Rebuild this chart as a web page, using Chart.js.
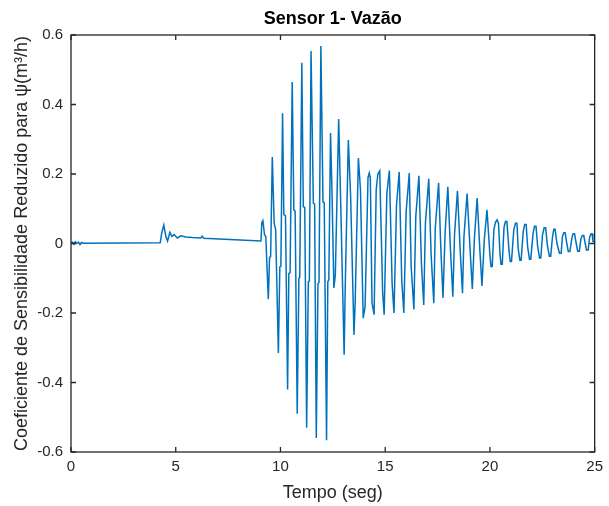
<!DOCTYPE html>
<html>
<head>
<meta charset="utf-8">
<script src="https://cdn.jsdelivr.net/npm/chart.js@4.4.1/dist/chart.umd.min.js"></script>
<style>
  html, body { margin: 0; padding: 0; background: #ffffff; }
  #wrap { width: 609px; height: 506px; position: relative; }
</style>
</head>
<body>
<div id="wrap"><canvas id="c" width="609" height="506"></canvas></div>
<script>
// ---- data ----
const chartTitle = 'Sensor 1- Vazão';
const xAxisTitle = 'Tempo (seg)';
const yAxisTitle = 'Coeficiente de Sensibilidade Reduzido para ψ(m³/h)';

const xTicks = [0, 5, 10, 15, 20, 25];
const xTickLabels = ['0', '5', '10', '15', '20', '25'];
const yTicks = [-0.6, -0.4, -0.2, 0, 0.2, 0.4, 0.6];
const yTickLabels = ['-0.6', '-0.4', '-0.2', '0', '0.2', '0.4', '0.6'];

const timeSec = [
  0.00, 0.08, 0.14, 0.21, 0.28, 0.36, 0.43, 0.50, 0.57,
  4.26, 4.33, 4.43, 4.53, 4.61, 4.72, 4.82, 4.92, 5.08, 5.24, 5.48, 5.79, 6.19, 6.26, 6.34,
  9.07, 9.11, 9.16, 9.24, 9.30, 9.42, 9.48, 9.53,
  9.61, 9.70, 9.77, 9.90, 9.97, 10.02,
  10.10, 10.16, 10.24, 10.34, 10.40, 10.46,
  10.56, 10.64, 10.70, 10.80, 10.88, 10.92,
  11.02, 11.09, 11.16, 11.25, 11.33, 11.38,
  11.46, 11.57, 11.63, 11.71, 11.79, 11.84,
  11.93, 12.03, 12.09, 12.20, 12.26, 12.31,
  12.39, 12.46, 12.55, 12.62,
  12.78, 12.88, 13.04, 13.09,
  13.24, 13.35, 13.51, 13.57,
  13.72, 13.82, 13.95, 14.04,
  14.18, 14.24, 14.29, 14.37, 14.47, 14.57, 14.65,
  14.74, 14.88, 14.95, 15.08,
  15.20, 15.33, 15.42, 15.54,
  15.67, 15.79, 15.89, 16.00,
  16.15, 16.24, 16.37, 16.46,
  16.61, 16.73, 16.84, 16.92,
  17.08, 17.19, 17.32, 17.39,
  17.55, 17.66, 17.76, 17.86,
  17.99, 18.11, 18.23, 18.31,
  18.45, 18.58, 18.69, 18.76,
  18.91, 19.05, 19.16, 19.26,
  19.39, 19.52, 19.62, 19.73,
  19.86, 20.00, 20.05, 20.11,
  20.19, 20.27, 20.34, 20.41, 20.48, 20.53, 20.59,
  20.67, 20.74, 20.81, 20.91, 20.97, 21.03,
  21.14, 21.22, 21.29, 21.35, 21.43, 21.49,
  21.59, 21.66, 21.73, 21.80, 21.89, 21.95,
  22.06, 22.13, 22.20, 22.28, 22.37, 22.43,
  22.51, 22.59, 22.66, 22.75, 22.84, 22.90,
  22.99, 23.05, 23.11, 23.20, 23.32, 23.40,
  23.46, 23.53, 23.59, 23.67, 23.74, 23.82,
  23.91, 23.97, 24.04, 24.12, 24.19, 24.27,
  24.34, 24.41, 24.48, 24.55, 24.61, 24.69,
  24.76, 24.83, 24.88, 24.92, 25.00
];

const psiValues = [
  0.002, 0.004, -0.002, 0.005, 0.000, 0.004, -0.003, 0.003, 0.001,
  0.002, 0.030, 0.053, 0.020, 0.007, 0.032, 0.020, 0.026, 0.016, 0.022, 0.019, 0.017, 0.016, 0.021, 0.015,
  0.007, 0.060, 0.066, 0.025, 0.020, -0.160, -0.040, -0.038,
  0.249, 0.058, 0.040, -0.315, -0.067, -0.065,
  0.375, 0.083, 0.080, -0.420, -0.086, -0.084,
  0.465, 0.096, 0.093, -0.490, -0.100, -0.098,
  0.520, 0.106, 0.104, -0.530, -0.110, -0.108,
  0.554, 0.116, 0.113, -0.560, -0.115, -0.112,
  0.568, 0.120, 0.117, -0.566, -0.110, -0.105,
  0.318, 0.150, -0.128, -0.090,
  0.358, 0.106, -0.320, -0.134,
  0.298, 0.135, -0.263, -0.163,
  0.246, 0.154, -0.215, -0.182,
  0.190, 0.203, 0.190, -0.170, -0.205, 0.154, 0.200,
  0.209, -0.143, -0.205, 0.145,
  0.210, -0.115, -0.200, 0.110,
  0.206, -0.105, -0.200, 0.092,
  0.203, -0.067, -0.190, 0.077,
  0.195, -0.057, -0.177, 0.058,
  0.186, -0.028, -0.172, 0.044,
  0.175, -0.020, -0.157, 0.030,
  0.163, -0.010, -0.153, 0.025,
  0.152, -0.019, -0.143, 0.020,
  0.144, -0.014, -0.131, 0.015,
  0.131, -0.019, -0.122, 0.010,
  0.097, -0.033, -0.066, -0.066,
  0.040, 0.062, 0.068, 0.058, -0.030, -0.060, -0.060,
  0.045, 0.063, 0.063, -0.020, -0.052, -0.052,
  0.040, 0.058, 0.058, -0.015, -0.048, -0.048,
  0.035, 0.055, 0.055, -0.010, -0.045, -0.045,
  0.030, 0.050, 0.050, -0.010, -0.042, -0.042,
  0.025, 0.045, 0.045, -0.008, -0.037, -0.037,
  0.020, 0.041, 0.041, 0.000, -0.028, -0.028,
  0.020, 0.031, 0.031, 0.000, -0.023, -0.023,
  0.015, 0.028, 0.028, 0.000, -0.022, -0.022,
  0.012, 0.023, 0.023, 0.000, -0.019, -0.019,
  0.018, 0.028, 0.028, 0.006, 0.006
];

// ---- chart ----
const FONT = "'Liberation Sans', Arial, Helvetica, sans-serif";
const AXIS_COLOR = '#262626';

const points = timeSec.map((t, i) => ({ x: t, y: psiValues[i] }));

const framePlugin = {
  id: 'matlabFrame',
  afterDatasetsDraw(chart) {
    const { ctx, chartArea: a, scales } = chart;
    const xs = scales.x, ys = scales.y;
    const L = 5;
    ctx.save();
    ctx.strokeStyle = AXIS_COLOR;
    ctx.lineWidth = 1.3;
    ctx.strokeRect(a.left, a.top, a.right - a.left, a.bottom - a.top);
    ctx.beginPath();
    xs.ticks.forEach(t => {
      const px = xs.getPixelForValue(t.value);
      ctx.moveTo(px, a.bottom); ctx.lineTo(px, a.bottom - L);
      ctx.moveTo(px, a.top); ctx.lineTo(px, a.top + L);
    });
    ys.ticks.forEach(t => {
      const py = ys.getPixelForValue(t.value);
      ctx.moveTo(a.left, py); ctx.lineTo(a.left + L, py);
      ctx.moveTo(a.right, py); ctx.lineTo(a.right - L, py);
    });
    ctx.stroke();
    ctx.restore();
  }
};

new Chart(document.getElementById('c'), {
  type: 'line',
  data: {
    datasets: [{
      data: points,
      borderColor: '#0072BD',
      borderWidth: 1.5,
      pointRadius: 0,
      tension: 0,
      fill: false
    }]
  },
  options: {
    responsive: false,
    animation: false,
    events: [],
    layout: { padding: { left: 0, right: 10, top: 0, bottom: 0 } },
    plugins: {
      legend: { display: false },
      tooltip: { enabled: false },
      title: {
        display: true,
        fullSize: false,
        text: chartTitle,
        color: '#000000',
        font: { family: FONT, size: 18, weight: 'bold', lineHeight: 1.2 },
        padding: { top: 8.5, bottom: 4.9 }
      }
    },
    scales: {
      x: {
        type: 'linear',
        min: 0, max: 25,
        afterBuildTicks: s => { s.ticks = xTicks.map(v => ({ value: v })); },
        afterFit: s => { s.height = 54; },
        grid: { display: false, drawTicks: false },
        border: { display: false },
        ticks: {
          color: AXIS_COLOR,
          font: { family: FONT, size: 15 },
          padding: 6,
          maxRotation: 0,
          callback: (v, i) => xTickLabels[i]
        },
        title: {
          display: true,
          text: xAxisTitle,
          color: AXIS_COLOR,
          font: { family: FONT, size: 18, lineHeight: 1.2 },
          padding: { top: 0, bottom: 2 }
        }
      },
      y: {
        type: 'linear',
        min: -0.6, max: 0.6,
        afterBuildTicks: s => { s.ticks = yTicks.map(v => ({ value: v })); },
        afterFit: s => { s.width = 71; },
        grid: { display: false, drawTicks: false },
        border: { display: false },
        ticks: {
          color: AXIS_COLOR,
          font: { family: FONT, size: 15 },
          padding: 8,
          callback: (v, i) => yTickLabels[i]
        },
        title: {
          display: true,
          text: yAxisTitle,
          color: AXIS_COLOR,
          font: { family: FONT, size: 18, lineHeight: 1.2 },
          padding: { top: 11, bottom: 0 }
        }
      }
    }
  },
  plugins: [framePlugin]
});
</script>
</body>
</html>
